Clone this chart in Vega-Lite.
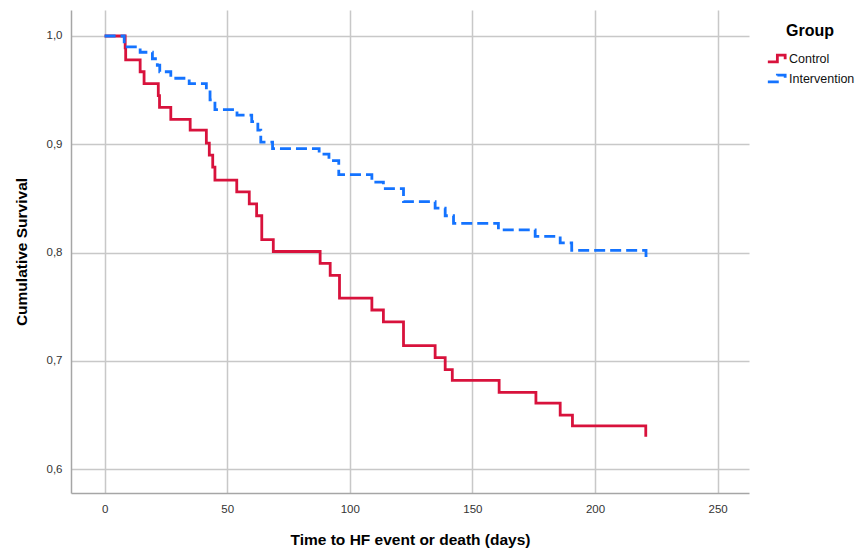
{
  "$schema": "https://vega.github.io/schema/vega-lite/v6.json",
  "width": 678,
  "height": 483,
  "autosize": "none",
  "padding": {"left": 71, "top": 10, "right": 115, "bottom": 61},
  "background": "white",
  "config": {
    "font": "Liberation Sans",
    "view": {"stroke": null},
    "axis": {
      "grid": true,
      "gridColor": "#c8c8c8",
      "gridWidth": 1.5,
      "domainColor": "#a6a6a6",
      "domainWidth": 1.5,
      "ticks": false,
      "labelFont": "Liberation Sans",
      "labelFontSize": 11.5,
      "labelColor": "#333333",
      "titleFont": "Liberation Sans",
      "titleFontSize": 15.5,
      "titleFontWeight": "bold",
      "titleColor": "#000000"
    }
  },
  "data": {
    "values": [
      {"group": "Control", "day": 0, "surv": 1.0},
      {"group": "Control", "day": 8.4, "surv": 0.989},
      {"group": "Control", "day": 8.6, "surv": 0.978},
      {"group": "Control", "day": 14.5, "surv": 0.967},
      {"group": "Control", "day": 16.1, "surv": 0.956},
      {"group": "Control", "day": 21.9, "surv": 0.945},
      {"group": "Control", "day": 22.4, "surv": 0.934},
      {"group": "Control", "day": 27.0, "surv": 0.923},
      {"group": "Control", "day": 34.9, "surv": 0.913},
      {"group": "Control", "day": 41.5, "surv": 0.901},
      {"group": "Control", "day": 42.7, "surv": 0.89},
      {"group": "Control", "day": 44.1, "surv": 0.879},
      {"group": "Control", "day": 45.0, "surv": 0.867},
      {"group": "Control", "day": 53.9, "surv": 0.856},
      {"group": "Control", "day": 59.0, "surv": 0.845},
      {"group": "Control", "day": 62.0, "surv": 0.834},
      {"group": "Control", "day": 64.1, "surv": 0.812},
      {"group": "Control", "day": 68.8, "surv": 0.801},
      {"group": "Control", "day": 87.9, "surv": 0.79},
      {"group": "Control", "day": 92.0, "surv": 0.779},
      {"group": "Control", "day": 95.8, "surv": 0.758},
      {"group": "Control", "day": 109.0, "surv": 0.747},
      {"group": "Control", "day": 113.7, "surv": 0.736},
      {"group": "Control", "day": 121.9, "surv": 0.714},
      {"group": "Control", "day": 134.8, "surv": 0.703},
      {"group": "Control", "day": 138.9, "surv": 0.692},
      {"group": "Control", "day": 141.8, "surv": 0.682},
      {"group": "Control", "day": 160.9, "surv": 0.671},
      {"group": "Control", "day": 175.9, "surv": 0.661},
      {"group": "Control", "day": 185.8, "surv": 0.65},
      {"group": "Control", "day": 190.8, "surv": 0.64},
      {"group": "Control", "day": 220.7, "surv": 0.63},
      {"group": "Intervention", "day": 0, "surv": 1.0},
      {"group": "Intervention", "day": 8.0, "surv": 0.99},
      {"group": "Intervention", "day": 14.5, "surv": 0.985},
      {"group": "Intervention", "day": 19.5, "surv": 0.979},
      {"group": "Intervention", "day": 21.5, "surv": 0.973},
      {"group": "Intervention", "day": 22.5, "surv": 0.967},
      {"group": "Intervention", "day": 27.0, "surv": 0.961},
      {"group": "Intervention", "day": 34.5, "surv": 0.956},
      {"group": "Intervention", "day": 41.5, "surv": 0.95},
      {"group": "Intervention", "day": 43.0, "surv": 0.941},
      {"group": "Intervention", "day": 45.0, "surv": 0.932},
      {"group": "Intervention", "day": 54.0, "surv": 0.927},
      {"group": "Intervention", "day": 60.0, "surv": 0.921},
      {"group": "Intervention", "day": 62.5, "surv": 0.913},
      {"group": "Intervention", "day": 63.7, "surv": 0.902},
      {"group": "Intervention", "day": 68.5, "surv": 0.896},
      {"group": "Intervention", "day": 87.5, "surv": 0.891},
      {"group": "Intervention", "day": 91.5, "surv": 0.885},
      {"group": "Intervention", "day": 95.5, "surv": 0.872},
      {"group": "Intervention", "day": 109.0, "surv": 0.865},
      {"group": "Intervention", "day": 113.7, "surv": 0.859},
      {"group": "Intervention", "day": 121.9, "surv": 0.847},
      {"group": "Intervention", "day": 134.8, "surv": 0.841},
      {"group": "Intervention", "day": 138.9, "surv": 0.834},
      {"group": "Intervention", "day": 142.3, "surv": 0.827},
      {"group": "Intervention", "day": 160.6, "surv": 0.821},
      {"group": "Intervention", "day": 175.6, "surv": 0.815},
      {"group": "Intervention", "day": 185.8, "surv": 0.809},
      {"group": "Intervention", "day": 190.5, "surv": 0.802},
      {"group": "Intervention", "day": 220.8, "surv": 0.796}
    ]
  },
  "mark": {"type": "line", "interpolate": "step-after", "strokeWidth": 2.8, "clip": true},
  "encoding": {
    "x": {
      "field": "day",
      "type": "quantitative",
      "scale": {"domain": [-13.7, 262.8], "nice": false, "zero": false},
      "axis": {
        "title": "Time to HF event or death (days)",
        "values": [0, 50, 100, 150, 200, 250],
        "labelPadding": 10,
        "titlePadding": 18
      }
    },
    "y": {
      "field": "surv",
      "type": "quantitative",
      "scale": {"domain": [0.578, 1.024], "nice": false, "zero": false},
      "axis": {
        "title": "Cumulative Survival",
        "values": [0.6, 0.7, 0.8, 0.9, 1.0],
        "labelExpr": "replace(format(datum.value, '.1f'), '.', ',')",
        "labelPadding": 9,
        "titlePadding": 17
      }
    },
    "color": {
      "field": "group",
      "type": "nominal",
      "scale": {"domain": ["Control", "Intervention"], "range": ["#D8123C", "#1473FF"]},
      "legend": {
        "title": "Group",
        "orient": "none",
        "legendX": 695,
        "legendY": 13,
        "titleFontSize": 16,
        "titleFontWeight": "bold",
        "titleColor": "#000000",
        "titleAnchor": "middle",
        "titlePadding": 9,
        "labelFontSize": 12.5,
        "labelColor": "#111111",
        "labelOffset": 2,
        "rowPadding": -3,
        "symbolType": "M-1,0.4H0.1V-0.4H1V0.1",
        "symbolSize": 300,
        "symbolStrokeWidth": 2.8,
        "symbolFillColor": "transparent",
        "encode": {"symbols": {"update": {"fill": {"value": "transparent"}}}}
      }
    },
    "strokeDash": {
      "field": "group",
      "type": "nominal",
      "scale": {"domain": ["Control", "Intervention"], "range": [[1, 0], [11, 5]]},
      "legend": null
    }
  }
}
